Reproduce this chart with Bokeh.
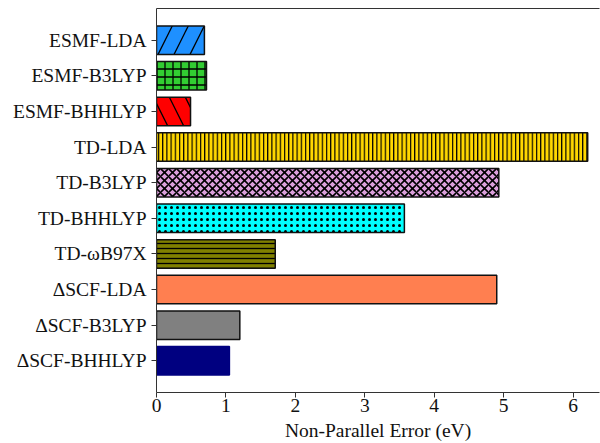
from bokeh.plotting import figure
from bokeh.models import ColumnDataSource, FactorRange, FixedTicker, LinearAxis, Range1d
from bokeh.embed import file_html
from bokeh.resources import INLINE

methods = ["ESMF-LDA", "ESMF-B3LYP", "ESMF-BHHLYP", "TD-LDA", "TD-B3LYP",
           "TD-BHHLYP", "TD-ωB97X", "ΔSCF-LDA", "ΔSCF-B3LYP", "ΔSCF-BHHLYP"]
errors = [0.69, 0.72, 0.49, 6.21, 4.93, 3.57, 1.71, 4.90, 1.20, 1.05]
x_ticks = [0, 1, 2, 3, 4, 5, 6]

colors = ["#1E90FF", "#32CD32", "#FF0000", "#FFD700", "#DDA0DD",
          "#00FFFF", "#808000", "#FF7F50", "#808080", "#000080"]
hatches = ["right_diagonal_line", "cross", "left_diagonal_line", "vertical_line",
           "diagonal_cross", "dot", "horizontal_line", " ", " ", " "]
hatch_scales = [32, 8, 32, 4.2, 8, 6, 5, 12, 12, 12]
hatch_weights = [1.3, 1.3, 1.3, 1.2, 1.6, 2.5, 1.3, 1, 1, 1]
edges = ["#111111"] * 9 + ["#000080"]

src = ColumnDataSource(dict(name=methods, val=errors, color=colors, hatch=hatches,
                            hscale=hatch_scales, hweight=hatch_weights, edge=edges))

FONT = "Liberation Serif"

p = figure(frame_width=443, frame_height=384, output_backend="svg", toolbar_location=None,
           y_range=FactorRange(factors=list(reversed(methods)), range_padding=0.078),
           x_range=Range1d(0, 6.38),
           min_border_left=156, min_border_right=1, min_border_top=8, min_border_bottom=51)
p.outline_line_color = None
p.xgrid.visible = False
p.ygrid.visible = False
p.background_fill_color = "white"
p.border_fill_color = "white"

p.hbar(y="name", right="val", left=0, height=0.8, source=src,
       fill_color="color", hatch_pattern="hatch", hatch_scale="hscale",
       hatch_color="black", hatch_weight="hweight", hatch_alpha=1.0,
       line_color="edge", line_width=1.5)

xa = p.xaxis[0]
xa.ticker = FixedTicker(ticks=x_ticks)
xa.axis_label = "Non-Parallel Error (eV)"
xa.axis_label_text_font = FONT
xa.axis_label_text_font_style = "normal"
xa.axis_label_text_font_size = "19.5px"
xa.axis_label_standoff = 5
xa.major_label_text_font = FONT
xa.major_label_text_font_size = "19.5px"
xa.major_label_standoff = 1
xa.major_tick_out = 5
xa.major_tick_in = 0
xa.minor_tick_out = 0
xa.minor_tick_in = 0
xa.axis_line_color = "#333333"
xa.major_tick_line_color = "#333333"
xa.major_label_text_color = "#111111"
xa.axis_label_text_color = "#111111"

ya = p.yaxis[0]
ya.major_label_text_font = FONT
ya.major_label_text_font_size = "19.5px"
ya.major_label_standoff = 5
ya.major_tick_out = 5
ya.major_tick_in = 0
ya.axis_line_color = "#333333"
ya.major_tick_line_color = "#333333"
ya.major_label_text_color = "#111111"

top = LinearAxis(ticker=FixedTicker(ticks=[]), major_label_standoff=0, axis_label_standoff=0,
                 major_tick_out=0, major_tick_in=0, minor_tick_out=0, minor_tick_in=0,
                 axis_line_color="#333333")
p.add_layout(top, "above")

open("out.html", "w").write(file_html(p, INLINE))
